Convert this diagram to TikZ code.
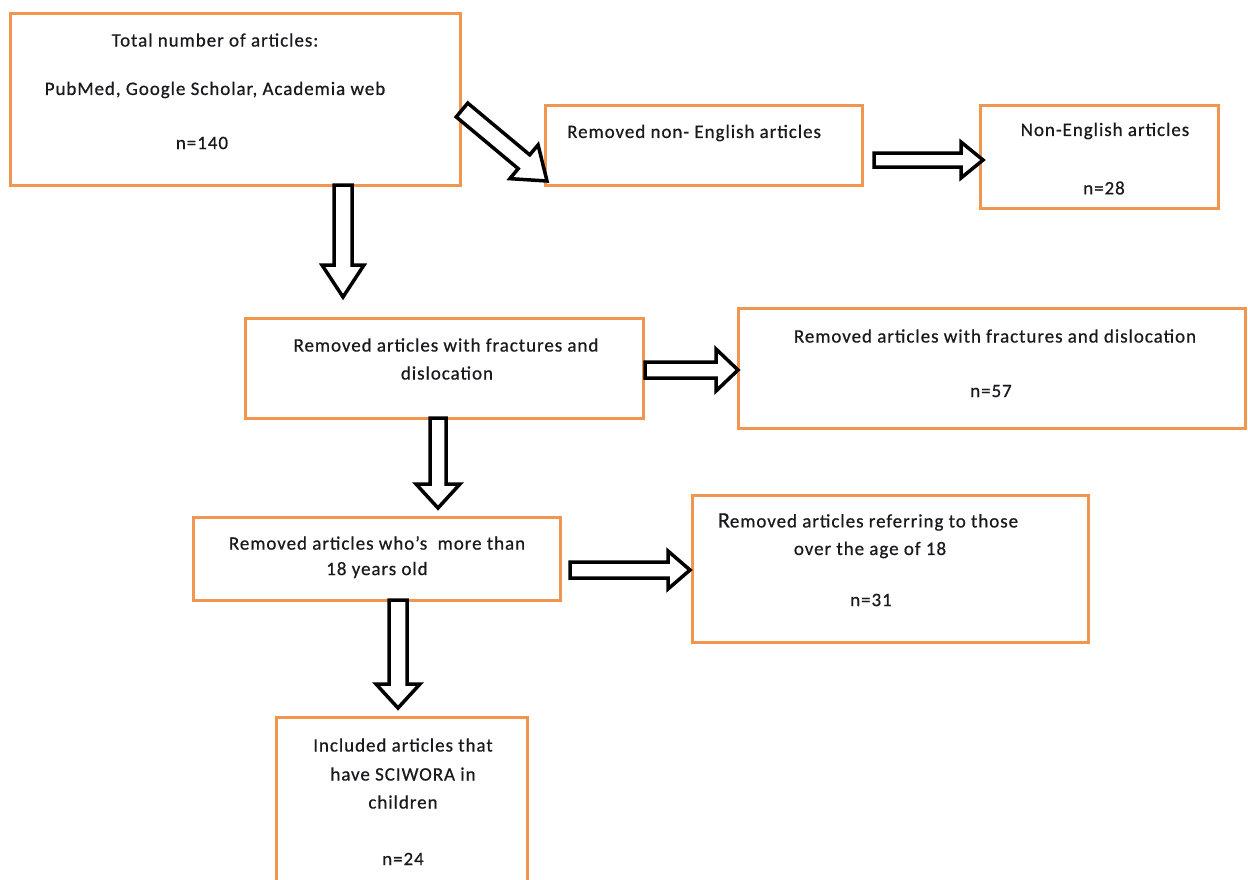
\documentclass[tikz,border=0pt]{standalone}
\usepackage{fontspec}
\setmainfont{Carlito}[LetterSpace=5, FakeBold=0.6]
\usetikzlibrary{calc}
\definecolor{boxorange}{RGB}{240,150,80}
\definecolor{txt}{RGB}{25,25,30}
\tikzset{
  box/.style={draw=boxorange, line width=3pt, fill=white},
  lbl/.style={font=\fontsize{19}{22}\selectfont, text=txt, inner sep=0pt, anchor=center},
  arrowline/.style={draw=black, line width=3.5pt, line join=miter, fill=white}
}
% block arrow: start, end, half shaft, half head, head length (in pt)
\newcommand\blockarr[5]{%
  \coordinate (bah) at ($(#2)!#5pt!(#1)$);
  \draw[arrowline] ($(#1)!#3pt!90:(#2)$) -- ($(bah)!#3pt!90:(#2)$) -- ($(bah)!#4pt!90:(#2)$) -- (#2)
     -- ($(bah)!#4pt!-90:(#2)$) -- ($(bah)!#3pt!-90:(#2)$) -- ($(#1)!#3pt!-90:(#2)$) -- cycle;}
\begin{document}
\begin{tikzpicture}[x=1pt,y=-1pt]
\useasboundingbox (0,0) rectangle (1248,879);
\clip (0,0) rectangle (1248,879);
\fill[white] (0,0) rectangle (1248,879);
% boxes
\draw[box] (10,13) rectangle (460,185);
\draw[box] (545,105) rectangle (862,185);
\draw[box] (980,105) rectangle (1218,208);
\draw[box] (245,318) rectangle (643,418);
\draw[box] (738,308) rectangle (1245,428);
\draw[box] (193,517) rectangle (560,600);
\draw[box] (692,495) rectangle (1088,642);
\draw[box] (276,717) rectangle (527,895);
% texts
\node[lbl] (t1a) at (215,40) {Total number of articles:};
\node[lbl] (t1b) at (215,90) {PubMed, Google Scholar, Academia web};
\node[lbl] (t1c) at (202,143) {n=140};
\node[lbl, anchor=west] (t2) at (567,133) {Removed non- English articles};
\node[lbl] (t3a) at (1105,131) {Non-English articles};
\node[lbl] (t3b) at (1104,188) {n=28};
\node[lbl] (t4a) at (446,345) {Removed articles with fractures and};
\node[lbl] (t4b) at (447,373) {dislocation};
\node[lbl] (t5a) at (995,336) {Removed articles with fractures and dislocation};
\node[lbl] (t5b) at (991,391) {n=57};
\node[lbl] (t6a) at (377,543) {Removed articles who's~ more than};
\node[lbl] (t6b) at (377,570) {18 years old};
\node[lbl] (t7a) at (868,522) {{\fontsize{22}{22}\selectfont R}emoved articles referring to those};
\node[lbl] (t7b) at (870,550) {over the age of 18};
\node[lbl] (t7c) at (871,600) {n=31};
\node[lbl] (t8a) at (403,745) {Included articles that};
\node[lbl] (t8b) at (403,774) {have SCIWORA in};
\node[lbl] (t8c) at (403,802) {children};
\node[lbl] (t8d) at (403,859) {n=24};
% arrow end points
\coordinate (a1s) at (462,110);
\coordinate (a1e) at (547,181);
\coordinate (a2s) at (874,160);
\coordinate (a2e) at (983,160);
\coordinate (a3s) at (343,185);
\coordinate (a3e) at (343,297);
\coordinate (a4s) at (645,370);
\coordinate (a4e) at (738,370);
\coordinate (a5s) at (438,418);
\coordinate (a5e) at (438,508);
\coordinate (a6s) at (570,570);
\coordinate (a6e) at (690,570);
\coordinate (a7s) at (398,600);
\coordinate (a7e) at (398,708);
\blockarr{a1s}{a1e}{9}{22}{30}
\blockarr{a2s}{a2e}{7}{18}{22}
\blockarr{a3s}{a3e}{9}{21}{32}
\blockarr{a4s}{a4e}{8}{21}{22}
\blockarr{a5s}{a5e}{8}{22}{24}
\blockarr{a6s}{a6e}{8}{19}{22}
\blockarr{a7s}{a7e}{9}{22}{24}
\end{tikzpicture}
\end{document}
